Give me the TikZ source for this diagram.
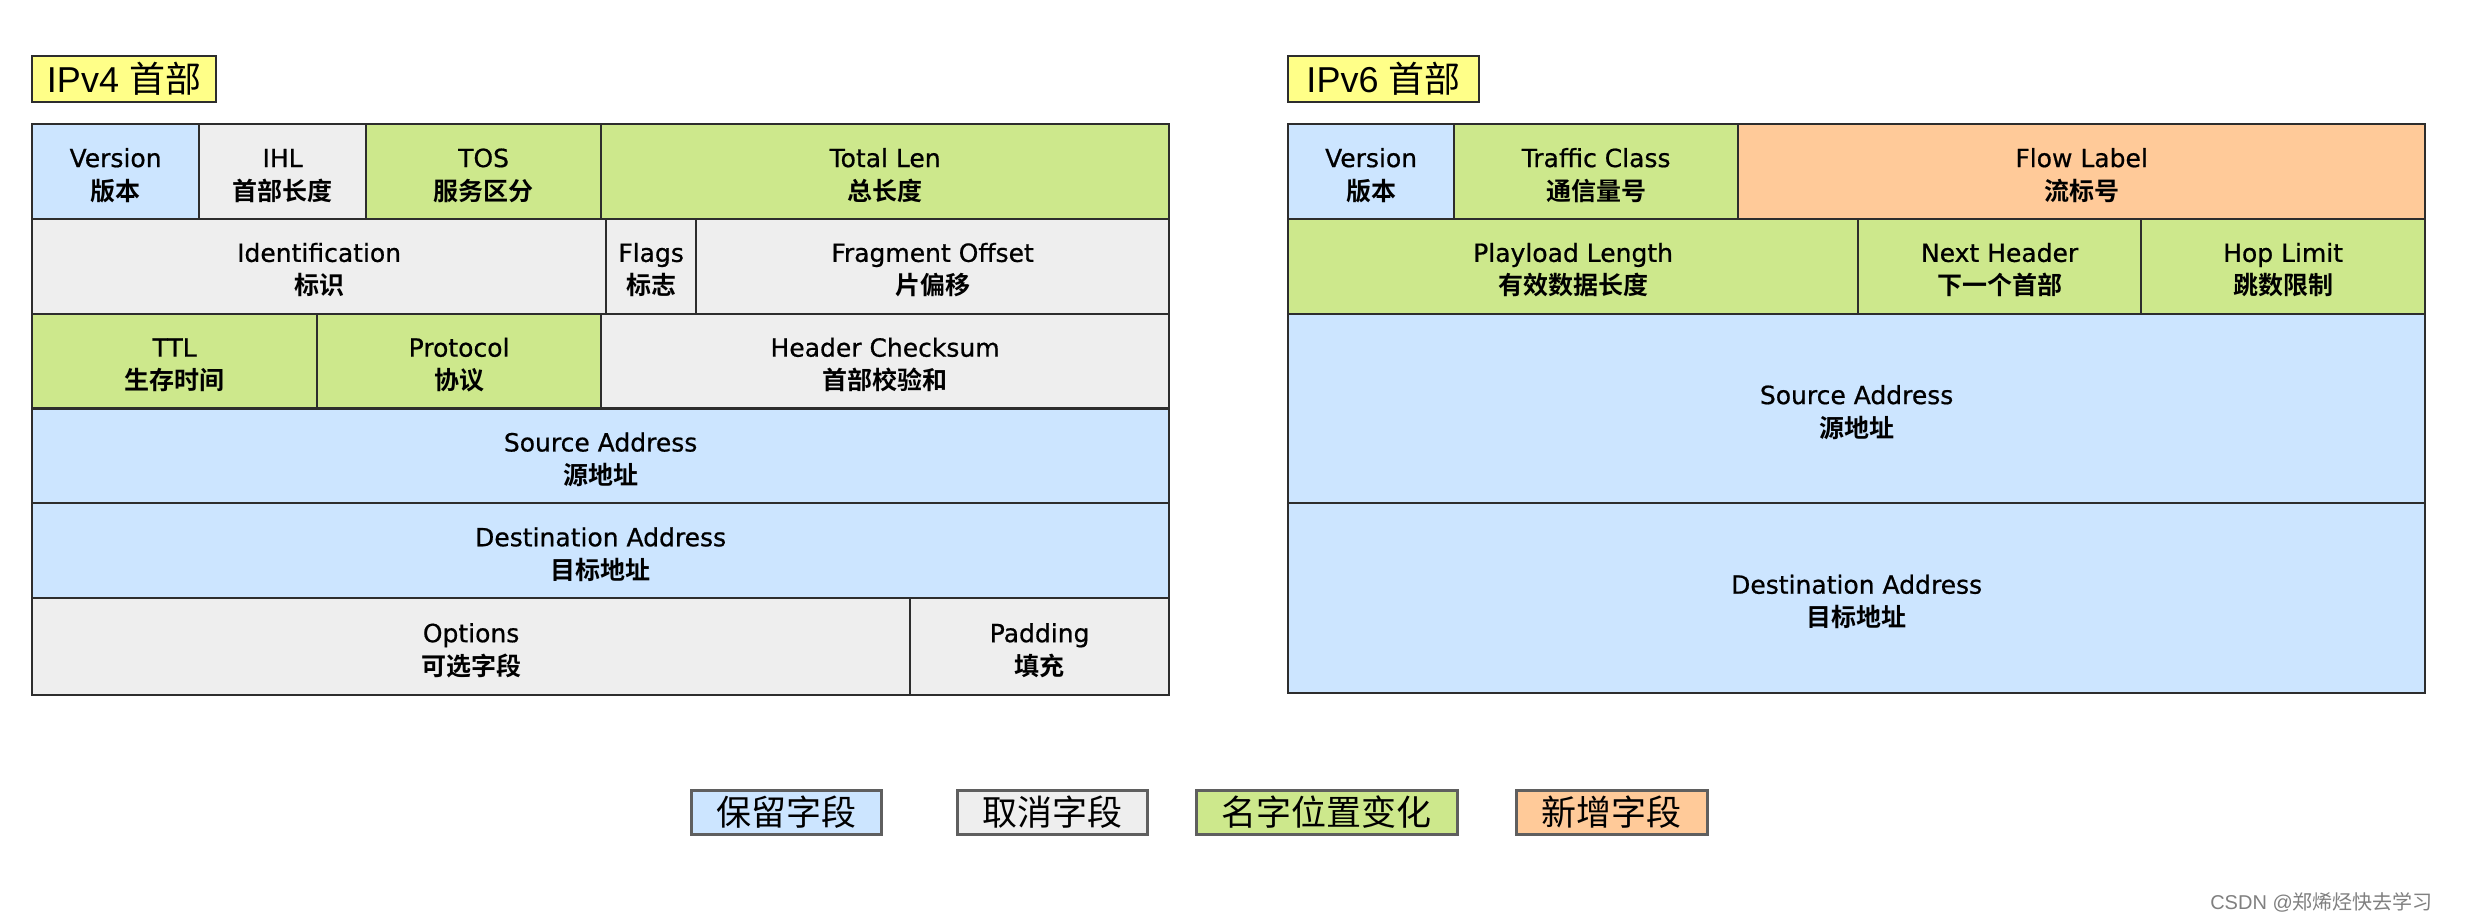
\documentclass[tikz,border=0pt]{standalone}
\usepackage{fontspec}
\setmainfont{DejaVu Sans}[FakeBold=0.7]
\newfontfamily\cjk{Noto Sans CJK SC}[BoldFont={Noto Sans CJK SC Bold}]
\newfontfamily\arial{Liberation Sans}
\definecolor{fblue}{RGB}{204,229,255}
\definecolor{fgray}{RGB}{238,238,238}
\definecolor{fgreen}{RGB}{205,232,140}
\definecolor{forange}{RGB}{255,202,153}
\definecolor{fyellow}{RGB}{255,255,136}
\definecolor{linec}{RGB}{45,45,45}
\definecolor{legline}{RGB}{95,95,95}
\newcommand\fld[2]{\begin{tabular}{@{}c@{}}\rule{0pt}{34pt}#1\\[0pt]{\cjk\bfseries #2}\end{tabular}}
\tikzset{
  field/.style={draw=linec, line width=2.2pt, anchor=north west, inner sep=0pt,
    align=center, font=\fontsize{25}{33}\selectfont, minimum height=94.8pt},
  titlebox/.style={draw=linec, line width=2pt, fill=fyellow, anchor=north west,
    inner sep=0pt, minimum height=46pt, font=\fontsize{36}{40}\selectfont},
  legbox/.style={draw=legline, line width=2.5pt, anchor=north west, inner sep=0pt,
    minimum height=44pt, font=\cjk\fontsize{35}{40}\selectfont}
}
\begin{document}
\begin{tikzpicture}[x=1pt,y=-1pt]
\useasboundingbox (0,0) rectangle (2465,922);
\fill[white] (0,0) rectangle (2465,922);
% titles
\node[titlebox, minimum width=184pt] (t4) at (31,55) {\arial IPv4 {\cjk 首部}};
\node[titlebox, minimum width=191pt] (t6) at (1287,55) {\arial IPv6 {\cjk 首部}};
% IPv4 header
\node[field, fill=fblue,  minimum width=167pt] (ver4) at (31,123) {\fld{Version}{版本}};
\node[field, fill=fgray,  minimum width=167pt] (ihl)  at (198,123) {\fld{IHL}{首部长度}};
\node[field, fill=fgreen, minimum width=235pt] (tos)  at (365,123) {\fld{TOS}{服务区分}};
\node[field, fill=fgreen, minimum width=568pt] (tlen) at (600,123) {\fld{Total Len}{总长度}};
\node[field, fill=fgray,  minimum width=574pt] (ident) at (31,217.8) {\fld{Identification}{标识}};
\node[field, fill=fgray,  minimum width=90pt]  (flags) at (605,217.8) {\fld{Flags}{标志}};
\node[field, fill=fgray,  minimum width=473pt] (frag)  at (695,217.8) {\fld{Fragment Offset}{片偏移}};
\node[field, fill=fgreen, minimum width=285pt] (ttl)   at (31,312.6) {\fld{TTL}{生存时间}};
\node[field, fill=fgreen, minimum width=284pt] (proto) at (316,312.6) {\fld{Protocol}{协议}};
\node[field, fill=fgray,  minimum width=568pt] (chk)   at (600,312.6) {\fld{Header Checksum}{首部校验和}};
\node[field, fill=fblue,  minimum width=1137pt] (src4) at (31,407.4) {\fld{Source Address}{源地址}};
\node[field, fill=fblue,  minimum width=1137pt] (dst4) at (31,502.2) {\fld{Destination Address}{目标地址}};
\node[field, fill=fgray,  minimum width=878pt, minimum height=97pt] (opt) at (31,597) {\fld{Options}{可选字段}};
\node[field, fill=fgray,  minimum width=259pt, minimum height=97pt] (pad) at (909,597) {\fld{Padding}{填充}};
% IPv6 header
\node[field, fill=fblue,   minimum width=166pt] (ver6) at (1287,123) {\fld{Version}{版本}};
\node[field, fill=fgreen,  minimum width=284pt] (tc)   at (1453,123) {\fld{Traffic Class}{通信量号}};
\node[field, fill=forange, minimum width=687pt] (flow) at (1737,123) {\fld{Flow Label}{流标号}};
\node[field, fill=fgreen,  minimum width=570pt] (plen) at (1287,217.8) {\fld{Playload Length}{有效数据长度}};
\node[field, fill=fgreen,  minimum width=283pt] (nh)   at (1857,217.8) {\fld{Next Header}{下一个首部}};
\node[field, fill=fgreen,  minimum width=284pt] (hop)  at (2140,217.8) {\fld{Hop Limit}{跳数限制}};
\node[field, fill=fblue, minimum width=1137pt, minimum height=189.6pt] (src6) at (1287,312.6) {\fld{Source Address}{源地址}};
\node[field, fill=fblue, minimum width=1137pt, minimum height=189.6pt] (dst6) at (1287,502.2) {\fld{Destination Address}{目标地址}};
% legend
\node[legbox, fill=fblue,   minimum width=190pt] (lg1) at (690,789)  {保留字段};
\node[legbox, fill=fgray,   minimum width=190pt] (lg2) at (956,789)  {取消字段};
\node[legbox, fill=fgreen,  minimum width=261pt] (lg3) at (1195,789) {名字位置变化};
\node[legbox, fill=forange, minimum width=191pt] (lg4) at (1515,789) {新增字段};
% watermark
\node[anchor=east, inner sep=0pt, text=gray, font=\arial\fontsize{20}{24}\selectfont] (wm) at (2433,902) {CSDN @{\cjk 郑烯烃快去学习}};
\end{tikzpicture}
\end{document}
